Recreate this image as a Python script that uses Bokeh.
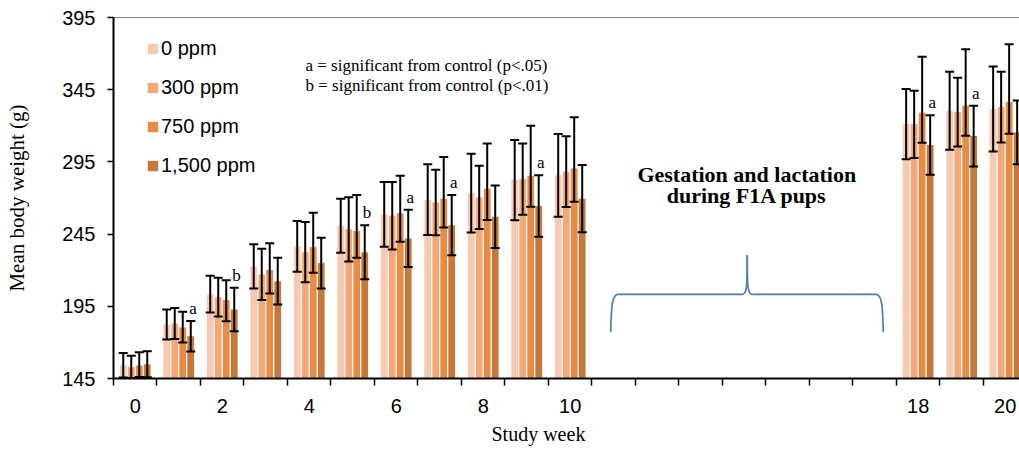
from bokeh.plotting import figure
from bokeh.models import (ColumnDataSource, Range1d, FixedTicker, Whisker, TeeHead,
                          Span, Label, LabelSet, Title)
from bokeh.transform import dodge
from bokeh.embed import file_html
from bokeh.resources import INLINE

# ---------------- data ----------------
weeks = [0, 1, 2, 3, 4, 5, 6, 7, 8, 9, 10, 18, 19, 20]
tick_weeks = [0, 2, 4, 6, 8, 10, 18, 20]
series_names = ["0 ppm", "300 ppm", "750 ppm", "1,500 ppm"]

mean_0 = [154.2, 182.4, 203.4, 222.6, 236.5, 250.8, 258.6, 268.8, 273.4, 282.4, 285.7, 321.2, 330.5, 331.6]
sd_0 = [8.5, 10.4, 12.7, 15.3, 17.5, 18.7, 22.4, 24.5, 27.3, 27.8, 28.6, 24.3, 27.0, 29.4]

mean_300 = [153.0, 183.1, 201.3, 217.1, 232.5, 248.3, 257.7, 266.9, 270.4, 283.1, 288.2, 321.0, 329.5, 333.0]
sd_300 = [7.7, 10.8, 13.4, 17.7, 20.8, 22.3, 23.3, 22.7, 21.9, 24.7, 24.5, 23.3, 23.8, 24.5]

mean_750 = [154.0, 180.5, 199.3, 220.1, 236.0, 247.1, 259.5, 269.5, 276.4, 285.4, 290.5, 329.1, 333.9, 336.5]
err_lo_750 = [146.1, 170.0, 184.7, 203.9, 218.2, 228.6, 239.7, 249.6, 254.7, 263.9, 267.4, 308.3, 313.1, 314.5]
err_hi_750 = [163.2, 191.2, 213.1, 238.6, 259.8, 272.0, 285.4, 298.4, 307.8, 320.0, 325.9, 367.9, 373.0, 376.5]

mean_1500 = [154.9, 174.3, 192.8, 212.4, 224.9, 232.5, 242.0, 251.2, 257.0, 264.4, 269.5, 306.7, 312.9, 315.5]
sd_1500 = [9.0, 10.6, 15.0, 16.2, 17.5, 18.7, 19.8, 20.8, 21.7, 21.3, 23.3, 20.6, 21.0, 22.1]
sig_1500 = ["", "a", "b", "", "", "b", "a", "a", "", "a", "", "a", "a", ""]

colors = ["#F8C8B1", "#F5A877", "#E88C45", "#C47839"]
offsets = [-0.276, -0.092, 0.092, 0.276]

# ---------------- figure ----------------
p = figure(width=1019, height=450, output_backend="svg", toolbar_location=None,
           x_range=Range1d(-0.5, 20.33), y_range=Range1d(145, 395),
           min_border_left=113, min_border_right=0, min_border_top=17, min_border_bottom=72)
p.outline_line_color = None
p.xgrid.visible = False
p.ygrid.visible = False
p.background_fill_color = "white"
p.border_fill_color = "white"

lo_hi = []
lo_hi.append(([m - s for m, s in zip(mean_0, sd_0)], [m + s for m, s in zip(mean_0, sd_0)]))
lo_hi.append(([m - s for m, s in zip(mean_300, sd_300)], [m + s for m, s in zip(mean_300, sd_300)]))
lo_hi.append((err_lo_750, err_hi_750))
lo_hi.append(([m - s for m, s in zip(mean_1500, sd_1500)], [m + s for m, s in zip(mean_1500, sd_1500)]))
means = [mean_0, mean_300, mean_750, mean_1500]

for name, mean, (lo, hi), col, off in zip(series_names, means, lo_hi, colors, offsets):
    src = ColumnDataSource(dict(week=weeks, mean=mean, lo=lo, hi=hi))
    p.vbar(x=dodge("week", off, range=p.x_range), top="mean", bottom=0, width=0.156,
           source=src, fill_color=col, line_color=None, legend_label=name)
    w = Whisker(base=dodge("week", off, range=p.x_range), lower="lo", upper="hi",
                source=src, dimension="height", line_color="black", line_width=2,
                upper_head=TeeHead(size=9, line_color="black", line_width=2),
                lower_head=TeeHead(size=9, line_color="black", line_width=2),
                level="annotation")
    p.add_layout(w)

# significance letters above the 1,500 ppm error bars
sig_idx = [i for i, s in enumerate(sig_1500) if s]
sig_src = ColumnDataSource(dict(
    week=[weeks[i] for i in sig_idx],
    top=[mean_1500[i] + sd_1500[i] for i in sig_idx],
    letter=[sig_1500[i] for i in sig_idx]))
p.add_layout(LabelSet(x=dodge("week", offsets[3] + 0.05, range=p.x_range), y="top",
                      text="letter", source=sig_src, text_font="Liberation Serif",
                      text_font_size="17px", text_align="center", text_baseline="alphabetic",
                      y_offset=7, text_color="black"))

# top border line
p.add_layout(Span(location=395, dimension="width", line_color="black", line_width=1))

# ---------------- axes ----------------
boundaries = [w - 0.5 for w in range(0, 22)]
p.xaxis.ticker = FixedTicker(ticks=tick_weeks, minor_ticks=boundaries)
p.xaxis.major_tick_out = 0
p.xaxis.major_tick_in = 0
p.xaxis.minor_tick_out = 7
p.xaxis.minor_tick_in = 0
p.xaxis.minor_tick_line_color = "black"
p.xaxis.minor_tick_line_width = 1.5
p.xaxis.axis_line_width = 2
p.xaxis.axis_line_color = "black"
p.xaxis.major_label_standoff = 13
p.xaxis.major_label_text_font = "Liberation Sans"
p.xaxis.major_label_text_font_size = "20px"
p.xaxis.major_label_text_color = "black"

p.yaxis.ticker = FixedTicker(ticks=[145, 195, 245, 295, 345, 395])
p.yaxis.major_tick_out = 6
p.yaxis.major_tick_in = 0
p.yaxis.major_tick_line_width = 1.5
p.yaxis.major_tick_line_color = "black"
p.yaxis.minor_tick_line_color = None
p.yaxis.axis_line_width = 2
p.yaxis.axis_line_color = "black"
p.yaxis.major_label_standoff = 12
p.yaxis.major_label_text_font = "Liberation Sans"
p.yaxis.major_label_text_font_size = "20px"
p.yaxis.major_label_text_color = "black"
p.yaxis.axis_label = "Mean body weight (g)"
p.yaxis.axis_label_text_font = "Liberation Serif"
p.yaxis.axis_label_text_font_style = "normal"
p.yaxis.axis_label_text_font_size = "21px"
p.yaxis.axis_label_text_color = "black"
p.yaxis.axis_label_standoff = 30

# x axis title: in the reference it sits left of the frame centre
xtitle_offset = 378
p.add_layout(Title(text="Study week", align="left", offset=xtitle_offset, standoff=11,
                   text_font="Liberation Serif", text_font_style="normal",
                   text_font_size="20px", text_color="black"), "below")

# ---------------- legend ----------------
leg = p.legend[0]
leg.location = (33, 201)
leg.margin = 0
leg.padding = 0
leg.border_line_color = None
leg.background_fill_alpha = 0
leg.glyph_width = 13
leg.glyph_height = 13
leg.label_standoff = 2
leg.label_height = 24
leg.spacing = 15
leg.label_text_font = "Liberation Sans"
leg.label_text_font_size = "20px"
leg.label_text_color = "black"

# ---------------- annotations ----------------
note_x = 3.914
note_y1, note_y2 = 361.5, 347.6
p.add_layout(Label(x=note_x, y=note_y1, text="a = significant from control (p<.05)",
                   text_font="Liberation Serif", text_font_size="17px",
                   text_baseline="alphabetic", text_color="black"))
p.add_layout(Label(x=note_x, y=note_y2, text="b = significant from control (p<.01)",
                   text_font="Liberation Serif", text_font_size="17px",
                   text_baseline="alphabetic", text_color="black"))

title_x = 14.06
title_y1, title_y2 = 286.6, 272.0
for t, ty in (("Gestation and lactation", title_y1), ("during F1A pups", title_y2)):
    p.add_layout(Label(x=title_x, y=ty, text=t, text_font="Liberation Serif",
                       text_font_style="bold", text_font_size="22px",
                       text_align="center", text_baseline="alphabetic", text_color="black"))

# brace under the gestation note
brace_color = "#4A7EBB"
bx_l, bx_r, bx_m = 10.93, 17.2, 14.07
by_end, by_bar, by_tip = 177.1, 203.2, 230.4
rx, ry, mx = 0.17, 6.0, 0.115

seg = ColumnDataSource(dict(
    x0=[bx_l + rx, bx_m + mx], y0=[by_bar, by_bar],
    x1=[bx_m - mx, bx_r - rx], y1=[by_bar, by_bar]))
p.segment(x0="x0", y0="y0", x1="x1", y1="y1", source=seg, line_color=brace_color, line_width=1.7)

bez = ColumnDataSource(dict(
    x0=[bx_l, bx_r, bx_m - mx, bx_m + mx],
    y0=[by_end, by_end, by_bar, by_bar],
    x1=[bx_l + rx, bx_r - rx, bx_m, bx_m],
    y1=[by_bar, by_bar, by_tip, by_tip],
    cx0=[bx_l + 0.02, bx_r - 0.02, bx_m - 0.02, bx_m + 0.02],
    cy0=[by_bar - ry - 8, by_bar - ry - 8, by_bar, by_bar],
    cx1=[bx_l, bx_r, bx_m, bx_m],
    cy1=[by_bar, by_bar, by_bar + 3, by_bar + 3]))
p.bezier(x0="x0", y0="y0", x1="x1", y1="y1", cx0="cx0", cy0="cy0", cx1="cx1", cy1="cy1",
         source=bez, line_color=brace_color, line_width=1.7)

open("out.html", "w").write(file_html(p, INLINE))
